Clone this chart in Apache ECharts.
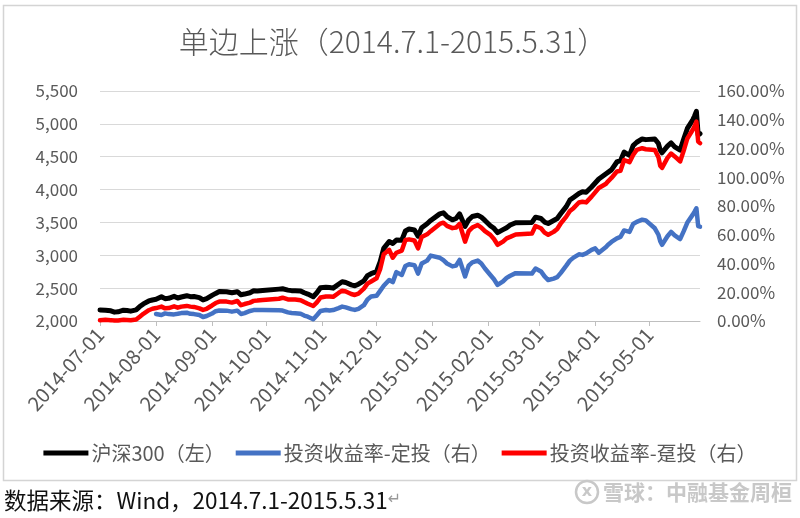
<!DOCTYPE html>
<html><head><meta charset="utf-8">
<script src="https://cdn.jsdelivr.net/npm/echarts@6/dist/echarts.min.js"></script>
<style>html,body{margin:0;padding:0;background:#fff}#c{width:800px;height:518px}</style>
</head><body><div id="c"></div>
<script>
// ---- data ----
const titleText = '单边上涨（2014.7.1-2015.5.31）';
const seriesNames = ['沪深300（左）', '投资收益率-定投（右）', '投资收益率-趸投（右）'];
const leftAxisRange = [2000, 5500, 500];
const rightAxisRange = [0, 160, 20];

const dates = [
  '2014-07-01','2014-07-04','2014-07-07','2014-07-09','2014-07-11','2014-07-14','2014-07-16','2014-07-18','2014-07-21','2014-07-23','2014-07-25','2014-07-28','2014-07-30',
  '2014-08-01','2014-08-04','2014-08-06','2014-08-08','2014-08-11','2014-08-13','2014-08-15','2014-08-18','2014-08-20','2014-08-22','2014-08-25','2014-08-27','2014-08-29',
  '2014-09-01','2014-09-03','2014-09-05','2014-09-09','2014-09-10','2014-09-12','2014-09-15','2014-09-17','2014-09-19','2014-09-22','2014-09-24','2014-09-26','2014-09-29','2014-09-30',
  '2014-10-08','2014-10-10','2014-10-13','2014-10-15','2014-10-17','2014-10-20','2014-10-22','2014-10-24','2014-10-27','2014-10-29','2014-10-31',
  '2014-11-03','2014-11-05','2014-11-07','2014-11-10','2014-11-12','2014-11-14','2014-11-17','2014-11-19','2014-11-21','2014-11-24','2014-11-26','2014-11-28',
  '2014-12-01','2014-12-03','2014-12-05','2014-12-08','2014-12-10','2014-12-12','2014-12-15','2014-12-17','2014-12-19','2014-12-22','2014-12-24','2014-12-26','2014-12-29','2014-12-31',
  '2015-01-05','2015-01-07','2015-01-09','2015-01-12','2015-01-14','2015-01-16','2015-01-19','2015-01-21','2015-01-23','2015-01-26','2015-01-28','2015-01-30',
  '2015-02-02','2015-02-04','2015-02-06','2015-02-09','2015-02-11','2015-02-13','2015-02-16','2015-02-25','2015-02-27',
  '2015-03-02','2015-03-04','2015-03-06','2015-03-09','2015-03-11','2015-03-13','2015-03-16','2015-03-18','2015-03-20','2015-03-23','2015-03-25','2015-03-27','2015-03-30',
  '2015-04-01','2015-04-03','2015-04-07','2015-04-08','2015-04-10','2015-04-13','2015-04-15','2015-04-17','2015-04-20','2015-04-22','2015-04-24','2015-04-27','2015-04-29','2015-04-30',
  '2015-05-04','2015-05-06','2015-05-07','2015-05-08','2015-05-11','2015-05-13','2015-05-15','2015-05-18','2015-05-20','2015-05-22','2015-05-25','2015-05-26','2015-05-27','2015-05-28','2015-05-29'
];

// 沪深300 (left axis)
const hs300 = [
  2167,2165,2155,2135,2140,2165,2160,2150,2170,2220,2260,2305,2320,
  2330,2370,2340,2345,2375,2350,2365,2385,2370,2372,2355,2320,2340,
  2390,2420,2448,2446,2440,2430,2446,2400,2410,2430,2461,2455,2465,2470,
  2485,2490,2470,2462,2460,2458,2430,2410,2370,2430,2505,
  2515,2510,2500,2560,2598,2585,2550,2535,2560,2610,2690,2720,
  2750,2900,3105,3210,3180,3231,3230,3370,3400,3385,3290,3420,3480,3530,
  3630,3646,3590,3540,3560,3630,3440,3540,3590,3610,3580,3530,
  3450,3410,3345,3390,3420,3460,3495,3500,3580,
  3560,3505,3484,3530,3560,3635,3740,3840,3880,3940,3968,3960,4040,
  4100,4160,4240,4265,4300,4420,4440,4570,4520,4670,4720,4770,4760,4755,
  4770,4700,4600,4560,4660,4710,4650,4600,4770,4930,5060,5120,5190,4830,4850
];

// 投资收益率-定投 (right axis, %)
const dingtou = [
  null,null,null,null,null,null,null,null,null,null,null,null,null,
  4.9,4.2,5.3,4.8,4.6,5.0,5.5,5.8,5.0,4.8,4.2,2.8,3.5,
  5.2,6.8,7.3,7.2,6.8,6.5,7.2,4.9,5.5,7.0,7.6,7.6,7.7,7.7,
  7.4,7.3,6.0,5.6,5.4,5.0,3.8,3.0,1.2,4.0,7.0,
  7.7,7.3,7.6,9.0,10.0,9.5,8.3,7.7,8.5,11.0,15.0,17.0,
  17.5,21.0,24.5,28.5,27.0,34.0,32.0,38.3,39.5,38.8,33.0,40.0,42.0,45.5,
  44.0,42.3,40.0,38.0,38.5,42.5,31.0,38.5,40.8,42.0,40.0,36.5,
  32.0,29.0,25.1,27.5,30.0,31.5,33.3,33.0,36.5,
  34.5,31.0,28.5,29.5,30.5,33.5,38.5,42.0,44.1,46.4,46.0,47.0,49.5,
  50.5,47.5,51.5,52.9,55.0,57.5,58.5,63.0,62.0,67.5,69.0,70.5,70.0,69.5,
  64.5,60.0,55.5,53.0,59.0,62.0,59.5,57.0,62.5,68.5,74.0,76.1,78.4,66.0,65.6
];

// 投资收益率-趸投 (right axis, %)
const duntou = [
  0.5,0.8,0.6,0.3,0.4,0.8,0.7,0.5,1.0,3.0,5.0,7.5,8.5,
  9.0,10.0,8.8,9.0,10.2,9.3,10.0,10.5,10.0,9.8,8.8,7.7,8.5,
  10.8,12.5,13.5,13.5,13.2,12.8,13.9,11.0,11.8,12.8,14.0,14.2,14.6,14.8,
  15.5,16.2,15.0,14.9,14.9,14.5,13.2,12.0,10.4,13.0,16.3,
  17.0,17.0,16.8,19.5,21.1,20.5,18.8,18.1,19.0,22.5,26.0,27.5,
  29.7,36.0,46.5,49.5,44.0,47.5,49.0,56.4,56.8,56.0,50.5,58.5,60.3,62.5,
  67.5,68.4,66.2,64.6,65.0,67.5,55.2,62.5,65.0,66.8,65.0,62.5,
  59.9,57.0,53.0,55.2,57.5,58.5,60.2,60.8,66.1,
  64.5,61.5,60.0,62.0,64.0,68.0,72.6,76.5,78.5,82.4,83.0,82.5,86.5,
  89.5,92.5,95.5,97.0,99.5,104.0,104.5,112.0,110.5,115.5,119.0,120.2,119.5,119.0,
  119.0,114.0,108.0,106.5,113.5,116.5,114.5,111.0,118.5,127.0,133.0,135.5,138.7,124.8,123.7
];

const colors = ['#000000', '#4472C4', '#FF0000'];
const FONT = '"Noto Sans CJK SC", "Noto Sans", sans-serif';
const GREY = '#595959';

const pair = arr => dates.map((d, i) => [d, arr[i]]);
function fmtDate(v) {
  const d = new Date(v);
  if (d.getDate() !== 1) return '';
  const m = d.getMonth() + 1;
  return d.getFullYear() + '-' + (m < 10 ? '0' + m : m) + '-01';
}

const chart = echarts.init(document.getElementById('c'), null, {renderer: 'canvas'});
chart.setOption({
  animation: false,
  backgroundColor: '#ffffff',
  grid: {left: 100, right: 100, top: 91, bottom: 197, containLabel: false},
  xAxis: {
    type: 'time',
    min: dates[0], max: dates[dates.length - 1],
    splitNumber: 11,
    axisLine: {lineStyle: {color: '#bfbfbf', width: 1}},
    axisTick: {show: true, length: 5, lineStyle: {color: '#bfbfbf'}},
    splitLine: {show: false},
    axisLabel: {
      rotate: 48, color: GREY, fontSize: 20, fontFamily: FONT, margin: 10,
      hideOverlap: false, showMinLabel: true, showMaxLabel: false,
      formatter: fmtDate
    }
  },
  yAxis: [{
    type: 'value', position: 'left',
    min: leftAxisRange[0], max: leftAxisRange[1], interval: leftAxisRange[2],
    axisLine: {show: false}, axisTick: {show: false},
    splitLine: {show: true, lineStyle: {color: '#d9d9d9', width: 1}},
    axisLabel: {color: GREY, fontSize: 17, fontFamily: FONT, margin: 22,
      formatter: v => v.toLocaleString('en-US')}
  }, {
    type: 'value', position: 'right',
    min: rightAxisRange[0], max: rightAxisRange[1], interval: rightAxisRange[2],
    axisLine: {show: false}, axisTick: {show: false},
    splitLine: {show: false},
    axisLabel: {color: GREY, fontSize: 17, fontFamily: FONT, margin: 17,
      formatter: v => v.toFixed(2) + '%'}
  }],
  legend: {
    data: seriesNames,
    left: 'center', top: 438,
    icon: 'rect', itemWidth: 45, itemHeight: 5, itemGap: 11,
    textStyle: {color: GREY, fontSize: 20, fontFamily: FONT, padding: [0, 0, 0, -2]}
  },
  series: [
    {name: seriesNames[0], type: 'line', yAxisIndex: 0, data: pair(hs300), showSymbol: false, symbol: 'none',
      lineStyle: {color: colors[0], width: 5, join: 'round', cap: 'round'}, itemStyle: {color: colors[0]}, z: 2},
    {name: seriesNames[1], type: 'line', yAxisIndex: 1, data: pair(dingtou), showSymbol: false, symbol: 'none', connectNulls: false,
      lineStyle: {color: colors[1], width: 4.5, join: 'round', cap: 'round'}, itemStyle: {color: colors[1]}, z: 3},
    {name: seriesNames[2], type: 'line', yAxisIndex: 1, data: pair(duntou), showSymbol: false, symbol: 'none',
      lineStyle: {color: colors[2], width: 4.5, join: 'round', cap: 'round'}, itemStyle: {color: colors[2]}, z: 4}
  ],
  graphic: [
    {type: 'rect', silent: true, z: -1, shape: {x: 3.5, y: 5.5, width: 793, height: 475},
      style: {fill: 'none', stroke: '#d4d4d4', lineWidth: 1.5}},
    {type: 'text', x: 393, y: 42, style: {text: titleText, fill: GREY, font: '300 30px ' + FONT,
      textAlign: 'center', textVerticalAlign: 'middle'}},
    {type: 'text', x: 4, y: 500, style: {
      text: '{a|数据来源：Wind，2014.7.1-2015.5.31}{b|↵}',
      textVerticalAlign: 'middle',
      rich: {a: {fontSize: 22.5, fontFamily: FONT, fill: '#111'}, b: {fontSize: 16, fontFamily: '"DejaVu Sans", sans-serif', fill: '#999'}}
    }},
    {type: 'circle', shape: {cx: 587, cy: 492, r: 11}, style: {fill: 'none', stroke: '#c8c8c8', lineWidth: 2.5}},
    {type: 'text', x: 587, y: 492, style: {text: 'x', fill: '#c8c8c8', font: 'bold 16px "DejaVu Sans"', textAlign: 'center', textVerticalAlign: 'middle'}},
    {type: 'text', x: 603, y: 492, style: {text: '雪球：中融基金周桓', fill: '#c8c8c8', font: 'bold 21px ' + FONT,
      textVerticalAlign: 'middle'}}
  ]
});
</script>
</body></html>
